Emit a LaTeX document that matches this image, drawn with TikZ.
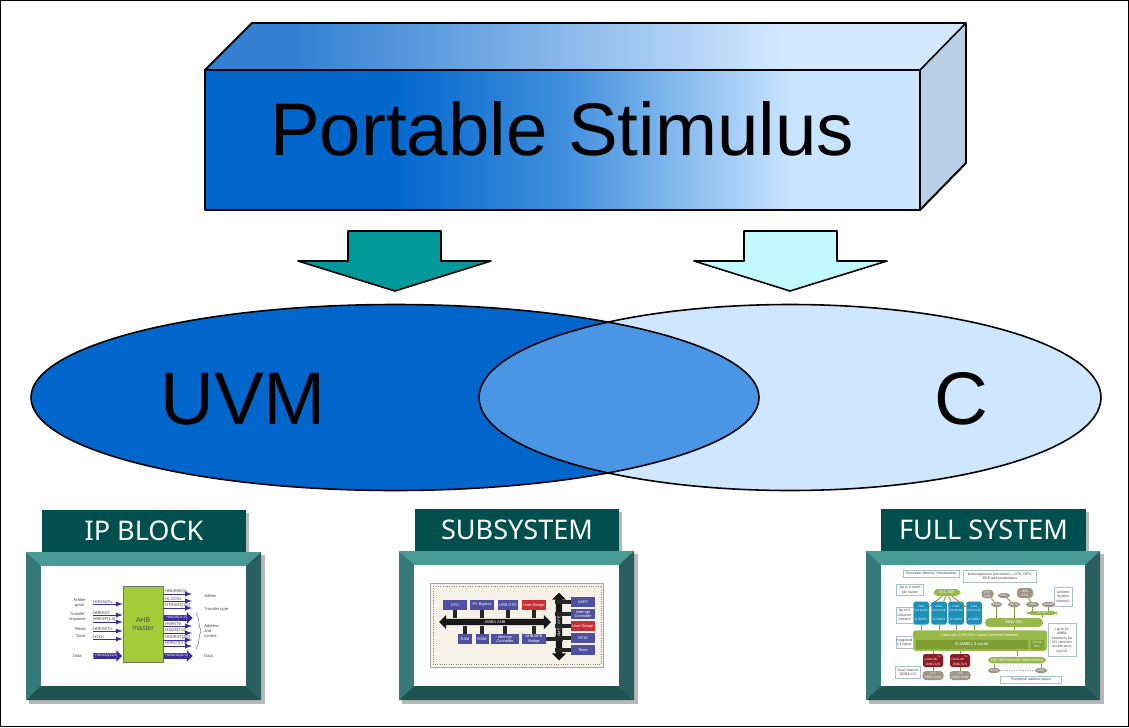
\documentclass[tikz,border=0pt]{standalone}
\usepackage{fontspec}
\setmainfont{Liberation Sans}
\newfontfamily\titlefont{Noto Sans}
\usetikzlibrary{shapes.geometric,shapes.arrows,positioning}

\definecolor{boxblue}{HTML}{0066CC}
\definecolor{boxlight}{HTML}{C8E4FF}
\definecolor{topblue}{HTML}{3380D2}
\definecolor{toplight}{HTML}{D3E8FF}
\definecolor{sidegrey}{HTML}{B8CFE5}
\definecolor{arrowteal}{HTML}{009999}
\definecolor{arrowpale}{HTML}{C4F8FF}
\definecolor{overlapblue}{HTML}{4A96E4}
\definecolor{titlegreen}{HTML}{004F4F}
\definecolor{bevtop}{HTML}{4A9A96}
\definecolor{bevleft}{HTML}{357A78}
\definecolor{bevright}{HTML}{2A5F5F}
\definecolor{bevbottom}{HTML}{1F5252}
\definecolor{sigblue}{HTML}{3A2F9A}
\definecolor{ahbgreen}{HTML}{A4CC38}
\definecolor{blockblue}{HTML}{5050A0}
\definecolor{blockred}{HTML}{C83038}
\definecolor{socbeige}{HTML}{F6F1E6}
\definecolor{coreblue}{HTML}{1E8FB8}
\definecolor{netgreen}{HTML}{98B84A}
\definecolor{darkgreen}{HTML}{7E9E34}
\definecolor{podbrown}{HTML}{A09488}
\definecolor{dmcred}{HTML}{8E1C24}
\definecolor{notegrey}{HTML}{A8C0D0}

\pgfdeclarehorizontalshading{frontshade}{100bp}{
  color(0bp)=(boxblue); color(38bp)=(boxblue); color(50bp)=(boxblue!68!boxlight);
  color(66bp)=(boxlight); color(100bp)=(boxlight)}
\pgfdeclarehorizontalshading{topshade}{100bp}{
  color(0bp)=(topblue); color(31bp)=(topblue); color(48bp)=(topblue!48!toplight);
  color(63bp)=(toplight); color(100bp)=(toplight)}

\tikzset{
  titlebar/.style={fill=titlegreen,text=white,font=\titlefont\fontsize{15.4}{18}\selectfont,inner sep=0pt},
  sigline/.style={draw=sigblue,line width=.35pt,-latex},
  sigfat/.style={single arrow,fill=sigblue,text=white,inner sep=0pt,minimum width=6.5pt,minimum height=16.4pt,
    single arrow head extend=1pt,font=\fontsize{1.9}{2.4}\selectfont},
  siglabel/.style={font=\fontsize{2.3}{2.9}\selectfont,text=black!75,align=center,inner sep=0pt},
  socblock/.style={fill=blockblue,text=white,font=\fontsize{2.2}{2.6}\selectfont,align=center,inner sep=0pt},
  socred/.style={socblock,fill=blockred},
  stub/.style={line width=2pt,draw=black!85},
  busarrow/.style={double arrow,fill=black!90,text=white,minimum width=8pt,double arrow head extend=1.2pt,inner sep=0pt,font=\fontsize{2.3}{3}\selectfont},
  note/.style={draw=notegrey,fill=white,line width=.4pt,font=\fontsize{2}{2.5}\selectfont,text=black!75,align=center,inner sep=.3pt},
  corebox/.style={fill=coreblue,rounded corners=1pt,text=white,font=\fontsize{1.8}{2.4}\selectfont,align=center,inner sep=0pt},
  netpill/.style={fill=netgreen,rounded corners=2.5pt,text=white,font=\fontsize{2.2}{2.6}\selectfont,align=center,inner sep=0pt},
  podpill/.style={fill=podbrown,rounded corners=2pt,text=white,font=\fontsize{1.8}{2.2}\selectfont,align=center,inner sep=0pt},
  dmcbox/.style={fill=dmcred,rounded corners=1pt,text=white,font=\fontsize{1.8}{2.4}\selectfont,align=center,inner sep=0pt},
  link/.style={draw=darkgreen,line width=.5pt}
}

% picture frame: left, top, right, bottom of the outer edge
\newcommand{\thumbframe}[4]{
  \fill[black,opacity=.28] (#1+3,#2+3) rectangle (#3+4,#4+4);
  \fill[bevtop] (#1,#2) -- (#3,#2) -- (#3-15,#2+14) -- (#1+15,#2+14) -- cycle;
  \fill[bevleft] (#1,#2) -- (#1+15,#2+14) -- (#1+15,#4-14) -- (#1,#4) -- cycle;
  \fill[bevright] (#3,#2) -- (#3-15,#2+14) -- (#3-15,#4-14) -- (#3,#4) -- cycle;
  \fill[bevbottom] (#1,#4) -- (#1+15,#4-14) -- (#3-15,#4-14) -- (#3,#4) -- cycle;
  \fill[white] (#1+15,#2+14) rectangle (#3-15,#4-14);
}

\begin{document}
\begin{tikzpicture}[x=0.02cm,y=-0.02cm]
\useasboundingbox (0,0) rectangle (1129,727);
\draw[black,line width=1pt] (.5,.5) rectangle (1128.5,726.5);

% solid box
\shade[shading=topshade] (205,70) -- (252,23) -- (966,23) -- (920,70) -- cycle;
\shade[shading=frontshade] (205,70) rectangle (920,210);
\fill[sidegrey] (920,70) -- (966,23) -- (966,163) -- (920,210) -- cycle;
\draw[line width=1.1pt,line join=round] (205,70) -- (252,23) -- (966,23) -- (966,163) -- (920,210) -- (205,210) -- cycle;
\draw[line width=.9pt] (205,70) -- (920,70) -- (920,210) (920,70) -- (966,23);
\node (stim) at (562,129) [font=\fontsize{42.4}{50}\selectfont] {Portable Stimulus};

% arrows
\draw[fill=arrowteal,line width=.9pt,line join=round] (348,231) -- (441,231) -- (441,261) -- (491,261) -- (395,291) -- (298,261) -- (348,261) -- cycle;
\draw[fill=arrowpale,line width=.9pt,line join=round] (744,231) -- (837,231) -- (837,261) -- (887,261) -- (790,291) -- (694,261) -- (744,261) -- cycle;

% ellipses
\fill[boxblue] (395,397.5) ellipse [x radius=364,y radius=93];
\fill[boxlight!90!white] (790,397.5) ellipse [x radius=311,y radius=93];
\begin{scope}
  \clip (395,397.5) ellipse [x radius=364,y radius=93];
  \fill[overlapblue] (790,397.5) ellipse [x radius=311,y radius=93];
\end{scope}
\draw[line width=.9pt] (395,397.5) ellipse [x radius=364,y radius=93];
\draw[line width=.9pt] (790,397.5) ellipse [x radius=311,y radius=93];
\node (uvm) at (243,399) [font=\fontsize{42.4}{50}\selectfont] {UVM};
\node (clang) at (961,399) [font=\fontsize{42.4}{50}\selectfont] {C};

% IP block
\fill[black,opacity=.28] (45,513) rectangle (249,552);
\node (iptitle) [titlebar,minimum width=4.08cm,minimum height=.84cm] at (144,531) {IP BLOCK};
\thumbframe{26}{552}{261}{700}
\node (ahb) at (143,624) [fill=ahbgreen,draw=black!55,line width=.4pt,minimum width=.8cm,minimum height=1.52cm,inner sep=0pt,align=center,font=\fontsize{4}{5}\selectfont,text=black!70] {AHB\\master};
\foreach \y/\sig/\id in {604/HGRANTx/a,615/HREADY/b,622/HRESP[1:0]/c,631/HRESETn/d,639/HCLK/e} {
  \coordinate (l\id) at (93,\y);
  \node [siglabel,anchor=south west] at (l\id) {\sig};
  \draw[sigline] (l\id) -- (l\id -| ahb.west);
}
\foreach \y/\sig/\id in {594/HBUSREQx/a,601/HLOCKx/b,608/HTRANS[1:0]/c,626/HWRITE/d,633/HSIZE[2:0]/e,640/HBURST[2:0]/f,646/HPROT[3:0]/g} {
  \coordinate (r\id) at (192,\y);
  \node [siglabel,anchor=south west] at (165,\y) {\sig};
  \draw[sigline] (ahb.east |- r\id) -- (r\id);
}
\node (hrdata) [sigfat,anchor=east] at (ahb.west |- 0,656) {HRDATA[31:0]};
\node (haddr) [sigfat,anchor=west] at (ahb.east |- 0,618) {HADDR[31:0]};
\node (hwdata) [sigfat,anchor=west] at (ahb.east |- 0,656) {HWDATA[31:0]};
\node (larb) [siglabel,anchor=east] at (86,603) {Arbiter\\grant};
\node (lresp) [siglabel,anchor=east] at (86,617) {Transfer\\response};
\node (lrst) [siglabel,anchor=east] at (86,629) {Reset};
\node (lclk) [siglabel,anchor=east] at (86,636) {Clock};
\node (ldat) [siglabel,anchor=east] at (82,656) {Data};
\node (rarb) [siglabel,anchor=west] at (204,596) {Arbiter};
\node (rtype) [siglabel,anchor=west] at (204,609) {Transfer type};
\node (raddr) [siglabel,anchor=west,align=left] at (204,631) {Address\\and\\control};
\node (rdat) [siglabel,anchor=west] at (204,656) {Data};
\draw[black!55,line width=.3pt] (196,613) .. controls (200,618) and (198,626) .. (201,631) .. controls (198,636) and (200,644) .. (196,649);

% subsystem
\fill[black,opacity=.28] (418,512) rectangle (622,551);
\node (subtitle) [titlebar,minimum width=4.08cm,minimum height=.84cm] at (517,530) {SUBSYSTEM};
\thumbframe{399}{551}{634}{700}
\draw[black!35,fill=socbeige,line width=.4pt] (430,583) rectangle (603,667);
\draw[black!45,densely dotted,line width=.3pt] (433,586) rectangle (601,664);
\node (ahbbus) at (495,622) [busarrow,minimum height=2.24cm] {AMBA AHB};
\node (apbbus) at (559,626.5) [busarrow,rotate=90,minimum height=1.36cm] {AMBA APB};
\foreach \cx/\w/\cy/\h/\sty/\lab/\id in {455/24/605/10/socblock/CPU/cpu,482/24/605/10/socblock/PV Bypass/pv,508/20/605/10/socblock/USB OTG/usb,534/24/605/10/socred/User Design/ud,465/14/639/10/socblock/RAM/ram,482/13/639/10/socblock/ROM/rom,505/28/639/10/socblock/Memory\\Controller/mem,534/24/639/10/socblock/{AHB/APB\\Bridge}/brg} {
  \node (\id) [\sty,minimum width=\w*0.02cm,minimum height=\h*0.02cm] at (\cx,\cy) {\lab};
}
\foreach \id in {cpu,pv,usb,ud} \draw[stub] (\id) -- (\id |- ahbbus.north);
\foreach \id in {ram,rom,mem,brg} \draw[stub] (\id) -- (\id |- ahbbus.south);
\draw[stub] (brg) -- (apbbus.south |- brg);
\foreach \cy/\sty/\lab/\id in {602/socblock/UART/ua,614/socblock/Interrupt\\Controller/ic,626/socred/User Design/ud2,638/socblock/GPIO/gp,650/socblock/Timer/tm} {
  \node (\id) [\sty,minimum width=.48cm,minimum height=.2cm] at (583,\cy) {\lab};
  \draw[stub] (\id) -- (apbbus.north |- \id);
}

% full system
\fill[black,opacity=.28] (884,512) rectangle (1089,551);
\node (fulltitle) [titlebar,minimum width=4.1cm,minimum height=.84cm] at (983.5,530) {FULL SYSTEM};
\thumbframe{866}{551}{1100}{700}
\node (ccn) at (980,640.5) [fill=netgreen,rounded corners=1.5pt,minimum width=2.68cm,minimum height=.41cm,inner sep=0pt] {};
\node (ccnlab) at (980,635) [text=white,font=\fontsize{2.2}{2.6}\selectfont,inner sep=0pt] {CoreLink CCN-504 Cache Coherent Network};
\node (lthree) at (972,644) [fill=darkgreen,minimum width=2.24cm,minimum height=.18cm,inner sep=0pt,text=white,font=\fontsize{2.4}{3}\selectfont] {8-16MB L3 cache};
\node (snoop) at (1037,644) [fill=darkgreen,minimum width=.26cm,minimum height=.18cm,inner sep=0pt,text=white,font=\fontsize{1.8}{2.2}\selectfont,align=center] {Snoop\\filter};
\node (gic) at (947,592.5) [netpill,minimum width=.54cm,minimum height=.14cm] {GIC-500};
\foreach \cx/\id in {921/ca,939/cb,956/cc,974/cd} {
  \node (\id) [corebox,minimum width=.31cm,minimum height=.46cm] at (\cx,613) {Core\\CoreLink\\~\\A72/A53};
  \draw[link] (\id) -- (\id |- ccn.north);
  \draw[link] (gic) -- (\id);
}
\node (mmu) at (1014,622.5) [netpill,minimum width=1.16cm,minimum height=.18cm] {MMU-500};
\draw[link] (mmu) -- (mmu |- ccn.north);
\node (dsp) at (987.5,594) [podpill,minimum width=.24cm,minimum height=.17cm] {DSP\\DSP};
\node (gpu) at (1004,595.5) [podpill,minimum width=.24cm,minimum height=.1cm] {GPU};
\node (accel) at (1025,593) [podpill,minimum width=.32cm,minimum height=.2cm] {DSP\\GPU};
\foreach \cx/\w/\lab/\id in {996.5/.22/PCIe/pa,1014/.24/SATA/pb,1032.5/.26/USB/pc,1048.5/.26/10GbE/pd} {
  \node (\id) [podpill,minimum width=\w cm,minimum height=.1cm] at (\cx,604.5) {\lab};
}
\node (smmu) at (1042,613) [netpill,minimum width=.6cm,minimum height=.08cm,font=\fontsize{1.6}{2}\selectfont] {GIC-500};
\foreach \id in {pa,pb} \draw[link] (\id) -- (\id |- mmu.north);
\foreach \id in {pc,pd} \draw[link] (\id) -- (\id |- smmu.north);
\draw[link] (smmu) -- (smmu |- mmu.north);
\draw[link] (dsp) -- (pa);
\draw[link] (gpu) -- (pb);
\draw[link] (accel) -- (pc);
\node (nic) at (1017,660) [netpill,minimum width=1.16cm,minimum height=.13cm] {NIC-400 Network Interconnect};
\draw[link] (nic) -- (nic |- ccn.south);
\node (pera) at (994,670.5) [podpill,minimum width=.24cm,minimum height=.1cm] {PCIe};
\node (perb) at (1041,670.5) [podpill,minimum width=.24cm,minimum height=.1cm] {DDR};
\draw[link] (pera) -- (pera |- nic.south);
\draw[link] (perb) -- (perb |- nic.south);
\draw[black!40,densely dotted,line width=.3pt] (pera) -- (perb);
\foreach \cx/\id/\pid in {933/da/ea,960/db/eb} {
  \node (\id) [dmcbox,minimum width=.4cm,minimum height=.26cm] at (\cx,660.5) {CoreLink$^{\mathrm{TM}}$\\DMC-520};
  \draw[link] (\id) -- (\id |- ccn.south);
  \node (\pid) [podpill,minimum width=.42cm,minimum height=.18cm] at (\cx,675.5) {x72\\DDR4-3200};
  \draw[link] (\id) -- (\pid);
}
\node (nvirt) at (931,574) [note,minimum width=1.12cm,minimum height=.13cm] {Processor Memory Virtualization};
\node (nhet) at (1000,576) [note,minimum width=1.46cm,minimum height=.24cm] {Heterogeneous processors -- CPU, GPU,\\DSP and accelerators};
\node (ncore) at (910,590) [note,minimum width=.54cm,minimum height=.22cm] {Up to 4 cores\\per cluster};
\node (nclus) at (904.5,615) [note,minimum width=.34cm,minimum height=.32cm] {Up to 4\\coherent\\clusters};
\node (nunif) at (1063,597) [note,minimum width=.36cm,minimum height=.38cm] {Uniform\\System\\Memory};
\node (nint) at (1062,640) [note,minimum width=.56cm,minimum height=.66cm] {Up to 16\\AMBA\\interfaces for\\I/O coherent\\accelerators\\and IO};
\node (ncache) at (904.5,642) [note,minimum width=.34cm,minimum height=.24cm] {Integrated\\L3 cache};
\node (nddr) at (908,672) [note,minimum width=.5cm,minimum height=.24cm] {Dual-channel\\DDR4 x72};
\node (nper) at (1031,680) [note,minimum width=1.22cm,minimum height=.14cm] {Peripheral address space};
\end{tikzpicture}
\end{document}
